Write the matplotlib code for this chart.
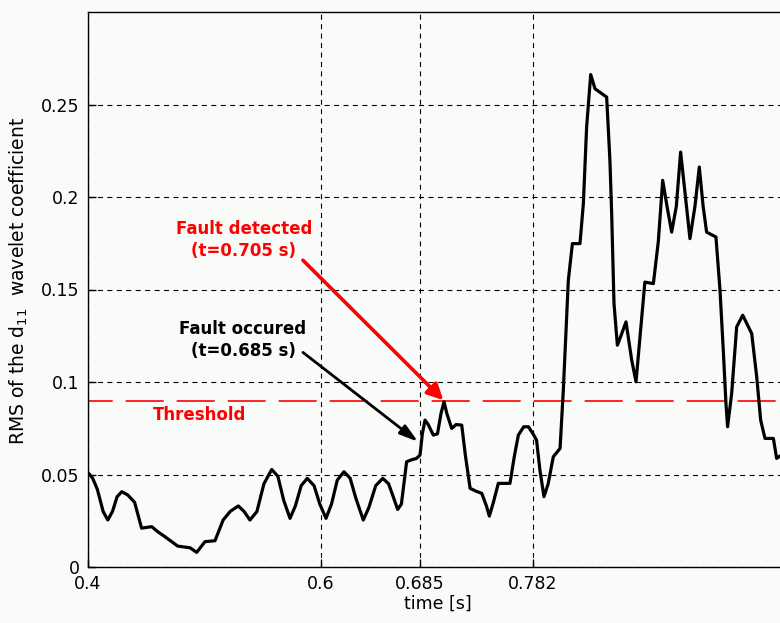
import matplotlib
matplotlib.use("Agg")
import matplotlib.pyplot as plt

# RMS of the d11 wavelet coefficient
time_s = [0.400, 0.404, 0.408, 0.413, 0.417, 0.421, 0.425, 0.429, 0.434, 0.440,
          0.446, 0.4547, 0.460, 0.466, 0.477, 0.4876, 0.4933, 0.5004, 0.509, 0.516,
          0.522, 0.529, 0.534, 0.539, 0.545, 0.551, 0.5577, 0.563, 0.568, 0.5734,
          0.578, 0.583, 0.5882, 0.594, 0.599, 0.6043, 0.609, 0.614, 0.6197, 0.625,
          0.630, 0.6363, 0.641, 0.647, 0.653, 0.658, 0.662, 0.6658, 0.669, 0.6735,
          0.678, 0.682, 0.685, 0.687, 0.6893, 0.692, 0.6964, 0.700, 0.703, 0.7056,
          0.708, 0.7122, 0.716, 0.7208, 0.724, 0.728, 0.733, 0.738, 0.742, 0.7445,
          0.748, 0.7522, 0.7622, 0.766, 0.7694, 0.774, 0.778, 0.782, 0.785, 0.788,
          0.7914, 0.795, 0.7994, 0.8052, 0.808, 0.8123, 0.8158, 0.8223, 0.8252, 0.828,
          0.8315, 0.8352, 0.8452, 0.848, 0.8495, 0.8515, 0.8544, 0.8575, 0.8618, 0.8667,
          0.8704, 0.8738, 0.878, 0.8853, 0.8895, 0.8933, 0.897, 0.901, 0.905, 0.9087,
          0.912, 0.9167, 0.921, 0.9247, 0.928, 0.931, 0.939, 0.9425, 0.9453, 0.9476,
          0.949, 0.9525, 0.9568, 0.962, 0.9697, 0.974, 0.9774, 0.9811, 0.9883, 0.9911,
          0.994]
rms = [0.051, 0.048, 0.042, 0.030, 0.0254, 0.030, 0.038, 0.0407, 0.039, 0.035,
       0.021, 0.0218, 0.019, 0.0164, 0.0113, 0.0104, 0.0079, 0.0137, 0.0142, 0.0254,
       0.030, 0.033, 0.030, 0.0254, 0.030, 0.045, 0.0527, 0.049, 0.036, 0.0263,
       0.033, 0.044, 0.0479, 0.044, 0.034, 0.0263, 0.034, 0.047, 0.0515, 0.048,
       0.037, 0.0254, 0.032, 0.044, 0.0479, 0.045, 0.038, 0.0311, 0.034, 0.0569,
       0.058, 0.0587, 0.0605, 0.072, 0.0794, 0.077, 0.0713, 0.072, 0.083, 0.0893,
       0.083, 0.0749, 0.077, 0.0767, 0.060, 0.0425, 0.041, 0.0398, 0.033, 0.0275,
       0.035, 0.0452, 0.0452, 0.060, 0.0713, 0.0758, 0.0758, 0.072, 0.0686, 0.052,
       0.038, 0.045, 0.0596, 0.0641, 0.0956, 0.155, 0.1748, 0.1748, 0.1964, 0.2378,
       0.2662, 0.2585, 0.254, 0.2198, 0.191, 0.1424, 0.1199, 0.125, 0.1325, 0.1118,
       0.1001, 0.1244, 0.154, 0.1532, 0.1757, 0.209, 0.195, 0.181, 0.195, 0.2243,
       0.205, 0.1775, 0.195, 0.2162, 0.195, 0.181, 0.1784, 0.1496, 0.1172, 0.0884,
       0.0758, 0.0938, 0.1298, 0.1361, 0.1262, 0.1028, 0.0794, 0.0695, 0.0695, 0.0587,
       0.060]

threshold = 0.09
x_ticks = [0.4, 0.6, 0.685, 0.782]
x_tick_labels = ["0.4", "0.6", "0.685", "0.782"]
y_ticks = [0, 0.05, 0.1, 0.15, 0.2, 0.25]
y_tick_labels = ["0", "0.05", "0.1", "0.15", "0.2", "0.25"]

bg = "#f9fbf9"
fig = plt.figure(figsize=(7.8, 6.23), dpi=100, facecolor=bg)
# the right edge of the axes runs past the picture, as in the reference
ax = fig.add_axes([88 / 780, 56 / 623, 699 / 780, 555 / 623])
ax.set_facecolor(bg)

ax.plot(time_s, rms, color="black", lw=2.3, solid_joinstyle="round",
        solid_capstyle="round", zorder=3)
ax.axhline(threshold, color="red", lw=1.2, linestyle=(8.0, (22.8, 7.8)), zorder=2)

ax.set_xlim(0.4, 1.0)
ax.set_ylim(0, 0.3)
ax.set_xticks(x_ticks)
ax.set_xticklabels(x_tick_labels)
ax.set_yticks(y_ticks)
ax.set_yticklabels(y_tick_labels)
ax.tick_params(direction="in", length=6, width=1, labelsize=12.5, pad=6)
ax.grid(True, color="black", lw=0.8, linestyle=(0, (4.5, 4.0)))
for s in ax.spines.values():
    s.set_linewidth(1.0)

ax.set_xlabel("time [s]", fontsize=12.5, labelpad=1)
ax.set_ylabel("RMS of the d$_{11}$  wavelet coefficient", fontsize=13.5)
ax.yaxis.set_label_coords(-0.083, 0.515)

# annotations
ax.text(0.5339, 0.1766, "Fault detected\n(t=0.705 s)", color="red", fontsize=12,
        fontweight="bold", ha="center", va="center", linespacing=1.3)
ax.annotate("", xy=(0.705, 0.0902), xytext=(0.5845, 0.1658),
            arrowprops=dict(arrowstyle="-|>", color="red", lw=2.6,
                            mutation_scale=24, shrinkA=0, shrinkB=0))
ax.text(0.533, 0.1226, "Fault occured\n(t=0.685 s)", color="black", fontsize=12,
        fontweight="bold", ha="center", va="center", linespacing=1.3)
ax.annotate("", xy=(0.6833, 0.0677), xytext=(0.5845, 0.116),
            arrowprops=dict(arrowstyle="-|>,head_length=0.5,head_width=0.15",
                            color="black", lw=2.0, mutation_scale=22,
                            shrinkA=0, shrinkB=0))
ax.text(0.4961, 0.082, "Threshold", color="red", fontsize=12,
        fontweight="bold", ha="center", va="center")

fig.savefig("out.png", dpi=100, facecolor=bg)
